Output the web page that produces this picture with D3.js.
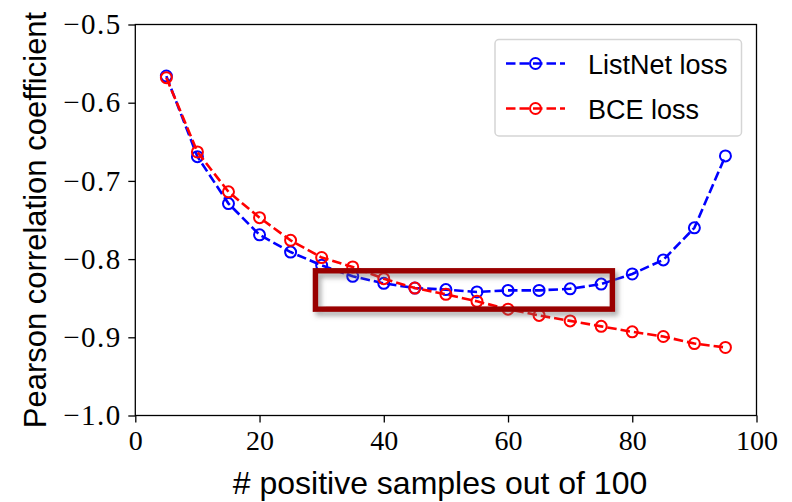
<!DOCTYPE html>
<html>
<head>
<meta charset="utf-8">
<script src="https://cdn.jsdelivr.net/npm/d3@7"></script>
<style>
  body { margin: 0; background: #fff; }
  svg { display: block; }
  .tick text { font-family: "Liberation Serif", "Times New Roman", serif; }
</style>
</head>
<body>
<svg id="plot"></svg>
<script>
const width = 792;
const height = 502;

// data
const positives = [5, 10, 15, 20, 25, 30, 35, 40, 45, 50, 55, 60, 65, 70, 75, 80, 85, 90, 95];
const listnetLoss = [-0.566, -0.669, -0.729, -0.769, -0.791, -0.808, -0.822, -0.831, -0.837, -0.839,
  -0.842, -0.840, -0.840, -0.838, -0.832, -0.819, -0.801, -0.760, -0.668];
const bceLoss = [-0.568, -0.663, -0.714, -0.747, -0.776, -0.798, -0.810, -0.825, -0.837, -0.845,
  -0.854, -0.864, -0.872, -0.879, -0.886, -0.893, -0.899, -0.908, -0.913];
const seriesNames = ["ListNet loss", "BCE loss"];
const seriesColors = ["#0000ff", "#ff0000"];
const xTicks = [0, 20, 40, 60, 80, 100];
const yTicks = [-1.0, -0.9, -0.8, -0.7, -0.6, -0.5];
// highlighted region [x0, x1, y0, y1]
const highlight = [29, 76.8, -0.815, -0.864];

const sans = "'Liberation Sans', Arial, Helvetica, sans-serif";

const svg = d3.select("#plot")
  .attr("width", width)
  .attr("height", height);

const defs = svg.append("defs");
defs.append("filter")
  .attr("id", "shadow")
  .attr("x", "-10%").attr("y", "-30%")
  .attr("width", "130%").attr("height", "180%")
  .append("feDropShadow")
  .attr("dx", 3).attr("dy", 4)
  .attr("stdDeviation", 2.5)
  .attr("flood-color", "#666")
  .attr("flood-opacity", 0.55);

const x = d3.scaleLinear()
  .domain([0, 100])
  .range([135.3, 756.5]);

const y = d3.scaleLinear()
  .domain([-1, -0.5])
  .range([415.5, 24.5]);

const fmt = d3.format(".1f");

const xAxis = svg.append("g")
  .attr("transform", `translate(0,${y(-1)})`)
  .call(d3.axisBottom(x).tickValues(xTicks).tickSize(7).tickPadding(7.5).tickSizeOuter(0));

const yAxis = svg.append("g")
  .attr("transform", `translate(${x(0)},0)`)
  .call(d3.axisLeft(y).tickValues(yTicks).tickFormat(fmt).tickSize(7).tickPadding(6.5).tickSizeOuter(0));

[xAxis, yAxis].forEach(g => {
  g.select(".domain").remove();
  g.selectAll(".tick line").attr("stroke", "#000").attr("stroke-width", 1.3);
  g.selectAll(".tick text")
    .attr("fill", "#000")
    .style("font-size", "28px");
});

yAxis.selectAll(".tick text")
  .style("font-size", "29px")
  .style("letter-spacing", "1.5px");

// frame
svg.append("rect")
  .attr("x", x(0))
  .attr("y", y(-0.5))
  .attr("width", x(100) - x(0))
  .attr("height", y(-1) - y(-0.5))
  .attr("fill", "none")
  .attr("stroke", "#000")
  .attr("stroke-width", 1.3);

const series = [listnetLoss, bceLoss];

const line = d3.line()
  .x((d, i) => x(positives[i]))
  .y(d => y(d));

series.forEach((vals, k) => {
  svg.append("path")
    .datum(vals)
    .attr("fill", "none")
    .attr("stroke", seriesColors[k])
    .attr("stroke-width", 2.6)
    .attr("stroke-dasharray", "9.5,4")
    .attr("d", line);

  svg.selectAll(null)
    .data(vals)
    .enter()
    .append("circle")
    .attr("cx", (d, i) => x(positives[i]))
    .attr("cy", d => y(d))
    .attr("r", 5.5)
    .attr("fill", "none")
    .attr("stroke", seriesColors[k])
    .attr("stroke-width", 2);
});

// highlight box
svg.append("rect")
  .attr("x", x(highlight[0]))
  .attr("y", y(highlight[2]))
  .attr("width", x(highlight[1]) - x(highlight[0]))
  .attr("height", y(highlight[3]) - y(highlight[2]))
  .attr("fill", "none")
  .attr("stroke", "#990000")
  .attr("stroke-width", 5.5)
  .attr("filter", "url(#shadow)");

// legend
const legend = svg.append("g");

legend.append("rect")
  .attr("x", 495)
  .attr("y", 39.5)
  .attr("width", 246.5)
  .attr("height", 96.5)
  .attr("rx", 4)
  .attr("fill", "#fff")
  .attr("fill-opacity", 0.85)
  .attr("stroke", "#d5d5d5")
  .attr("stroke-width", 1.5);

seriesNames.forEach((name, k) => {
  const ry = 63.5 + k * 45;
  legend.append("line")
    .attr("x1", 506).attr("x2", 565)
    .attr("y1", ry).attr("y2", ry)
    .attr("stroke", seriesColors[k])
    .attr("stroke-width", 2.6)
    .attr("stroke-dasharray", "9.5,4");
  legend.append("circle")
    .attr("cx", 535.5).attr("cy", ry)
    .attr("r", 5.5)
    .attr("fill", "none")
    .attr("stroke", seriesColors[k])
    .attr("stroke-width", 2);
  legend.append("text")
    .attr("x", 588)
    .attr("y", ry + 10)
    .style("font-family", sans)
    .style("font-size", "27px")
    .text(name);
});

// axis labels
svg.append("text")
  .attr("x", 440)
  .attr("y", 494)
  .attr("text-anchor", "middle")
  .style("font-family", sans)
  .style("font-size", "32px")
  .text("# positive samples out of 100");

svg.append("text")
  .attr("transform", `translate(46,${(y(-0.5) + y(-1)) / 2}) rotate(-90)`)
  .attr("text-anchor", "middle")
  .style("font-family", sans)
  .style("font-size", "31px")
  .text("Pearson correlation coefficient");
</script>
</body>
</html>
